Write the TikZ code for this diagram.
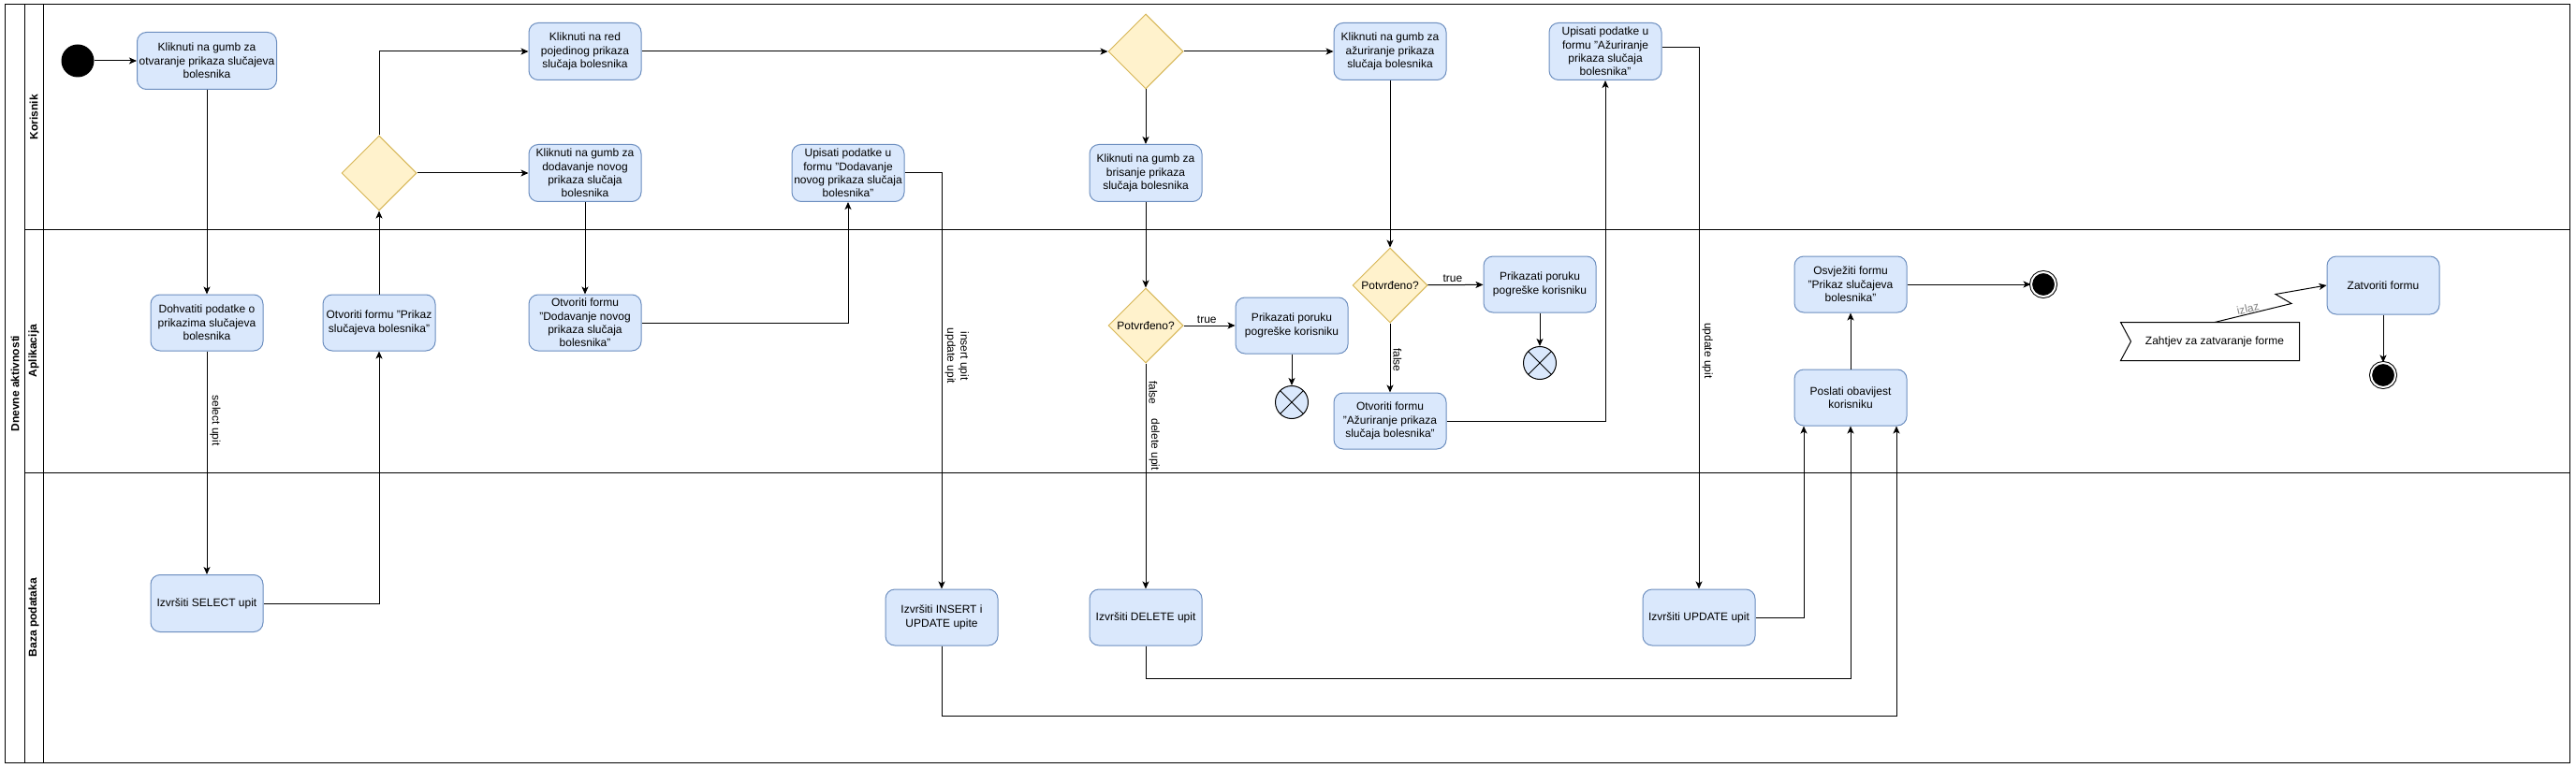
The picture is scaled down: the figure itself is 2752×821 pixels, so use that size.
\documentclass[tikz,border=0pt]{standalone}
\usepackage{fontspec}
\setmainfont{Liberation Sans}
\usetikzlibrary{arrows.meta,shapes.geometric}

\definecolor{actfill}{HTML}{DAE8FC}
\definecolor{actline}{HTML}{6C8EBF}
\definecolor{odlfill}{HTML}{FFF2CC}
\definecolor{odlline}{HTML}{D6B656}

\begin{document}
\begin{tikzpicture}[x=1pt,y=-1pt,line width=1pt,
  font=\fontsize{12}{14.4}\selectfont,
  act/.style={draw=actline,fill=actfill,rounded corners=10pt,align=center,
    minimum width=120pt,minimum height=61pt,inner sep=2pt},
  odluka/.style={diamond,draw=odlline,fill=odlfill,minimum width=80pt,
    minimum height=80pt,inner sep=0pt},
  pocetak/.style={circle,fill=black,minimum size=35pt,inner sep=0pt},
  kraj/.style={circle,draw=black,fill=black,minimum size=26pt,inner sep=0pt,
    double=white,double distance=2pt},
  prekid/.style={circle,draw=black,fill=actfill,minimum size=35pt,inner sep=0pt,
    path picture={\draw (path picture bounding box.north west) -- (path picture bounding box.south east)
      (path picture bounding box.north east) -- (path picture bounding box.south west);}},
  staza/.style={font=\fontsize{12}{14.4}\selectfont\bfseries,rotate=90},
  tok/.style={-{Stealth[length=8pt,width=7pt,inset=2pt]}},
  okomito/.style={rotate=-90,anchor=south,inner sep=3pt,align=center}]
\useasboundingbox (0,0) rectangle (2752,821);
\draw (5,5) rectangle (2745,815);
\draw (26,5) -- (26,815);
\draw (46,5) -- (46,815);
\draw (26,245) -- (2745,245);
\draw (26,505) -- (2745,505);
\node[staza] (pool) at (16,410) {Dnevne aktivnosti};
\node[staza] (korisnik) at (36,125) {Korisnik};
\node[staza] (aplikacija) at (36,375) {Aplikacija};
\node[staza] (baza) at (36,660) {Baza podataka};

\node[pocetak] (start) at (83,65) {};
\node[act,minimum width=149pt] (otvaranje) at (221,65) {Kliknuti na gumb za\\otvaranje prikaza slučajeva\\bolesnika};
\node[act] (red) at (625,55) {Kliknuti na red\\pojedinog prikaza\\slučaja bolesnika};
\node[odluka] (d1) at (405,185) {};
\node[act] (dodavanje) at (625,185) {Kliknuti na gumb za\\dodavanje novog\\prikaza slučaja\\bolesnika};
\node[act] (upisatiDod) at (906,185) {Upisati podatke u\\formu "Dodavanje\\novog prikaza slučaja\\bolesnika"};
\node[odluka] (d2) at (1224,55) {};
\node[act] (brisanje) at (1224,185) {Kliknuti na gumb za\\brisanje prikaza\\slučaja bolesnika};
\node[act] (azuriranje) at (1485,55) {Kliknuti na gumb za\\ažuriranje prikaza\\slučaja bolesnika};
\node[act] (upisatiAz) at (1715,55) {Upisati podatke u\\formu "Ažuriranje\\prikaza slučaja\\bolesnika"};

\node[act,minimum height=60pt] (dohvatiti) at (221,345) {Dohvatiti podatke o\\prikazima slučajeva\\bolesnika};
\node[act,minimum height=60pt] (prikaz) at (405,345) {Otvoriti formu "Prikaz\\slučajeva bolesnika"};
\node[act,minimum height=60pt] (otvoriDod) at (625,345) {Otvoriti formu\\"Dodavanje novog\\prikaza slučaja\\bolesnika"};
\node[odluka] (potvrda1) at (1224,348) {Potvrđeno?};
\node[act,minimum height=60pt] (poruka1) at (1380,348) {Prikazati poruku\\pogreške korisniku};
\node[prekid] (kraj1) at (1380,430) {};
\node[odluka] (potvrda2) at (1485,305) {Potvrđeno?};
\node[act,minimum height=60pt] (poruka2) at (1645,304) {Prikazati poruku\\pogreške korisniku};
\node[prekid] (kraj2) at (1645,388) {};
\node[act,minimum height=60pt] (otvoriAz) at (1485,450) {Otvoriti formu\\"Ažuriranje prikaza\\slučaja bolesnika"};
\node[act,minimum height=60pt] (osvjeziti) at (1977,304) {Osvježiti formu\\"Prikaz slučajeva\\bolesnika"};
\node[act,minimum height=60pt] (poslati) at (1977,425) {Poslati obavijest\\korisniku};
\node[kraj] (end1) at (2183,304) {};
\node[act,minimum height=62pt] (zatvoriti) at (2546,305) {Zatvoriti formu};
\node[kraj] (end2) at (2546,401) {};
\node[minimum width=190pt,minimum height=40pt,inner sep=0pt] (zahtjev) at (2361,365) {\hspace{10pt}Zahtjev za zatvaranje forme};
\draw (zahtjev.north west) -- (zahtjev.north east) -- (zahtjev.south east) -- (zahtjev.south west)
  -- ([xshift=11pt]zahtjev.west) -- cycle;

\node[act] (select) at (221,645) {Izvršiti SELECT upit};
\node[act,minimum height=60pt] (insert) at (1006,660) {Izvršiti INSERT i\\UPDATE upite};
\node[act,minimum height=60pt] (delete) at (1224,660) {Izvršiti DELETE upit};
\node[act,minimum height=60pt] (updateq) at (1815,660) {Izvršiti UPDATE upit};

\draw[tok] (start) -- (otvaranje);
\draw[tok] (otvaranje) -- (dohvatiti);
\draw[tok] (dohvatiti) -- node[okomito,pos=0.31] {select upit} (select);
\draw[tok] (select) -| (prikaz);
\draw[tok] (prikaz) -- (d1);
\draw[tok] (d1) |- (red);
\draw[tok] (d1) -- (dodavanje);
\draw[tok] (dodavanje) -- (otvoriDod);
\draw[tok] (otvoriDod) -| (upisatiDod);
\draw[tok] (upisatiDod) -| node[okomito,pos=0.72] {insert upit\\update upit} (insert);
\draw[tok] (red) -- (d2);
\draw[tok] (d2) -- (azuriranje);
\draw[tok] (d2) -- (brisanje);
\draw[tok] (brisanje) -- (potvrda1);
\draw[tok] (potvrda1) -- node[above,pos=0.45,inner sep=2pt] {true} (poruka1);
\draw[tok] (poruka1) -- (kraj1);
\draw[tok] (potvrda1) -- node[okomito,pos=0.13] {false} node[okomito,pos=0.36] {delete upit} (delete);
\draw[tok] (azuriranje) -- (potvrda2);
\draw[tok] (potvrda2) -- node[above,pos=0.45,inner sep=2pt] {true} (poruka2);
\draw[tok] (poruka2) -- (kraj2);
\draw[tok] (potvrda2) -- node[okomito,pos=0.53] {false} (otvoriAz);
\draw[tok] (otvoriAz) -| (upisatiAz);
\draw[tok] ([yshift=4pt]upisatiAz.east) -| node[okomito,pos=0.78] {update upit} (updateq);
\draw[tok] (updateq) -| ([xshift=-50pt]poslati.south);
\draw[tok] (delete.south) -- ++(0,35) -| (poslati.south);
\draw[tok] (insert.south) -- ++(0,75) -| ([xshift=49pt]poslati.south);
\draw[tok] (poslati) -- (osvjeziti);
\draw[tok] (osvjeziti) -- (end1);
\draw[tok] ([xshift=5pt]zahtjev.north) -- node[sloped,above,text=gray,inner sep=1pt,pos=0.45] {izlaz} ++(82,-20)
  -- ++(-17,-10) -- (zatvoriti.west);
\draw[tok] (zatvoriti) -- (end2);
\end{tikzpicture}
\end{document}
